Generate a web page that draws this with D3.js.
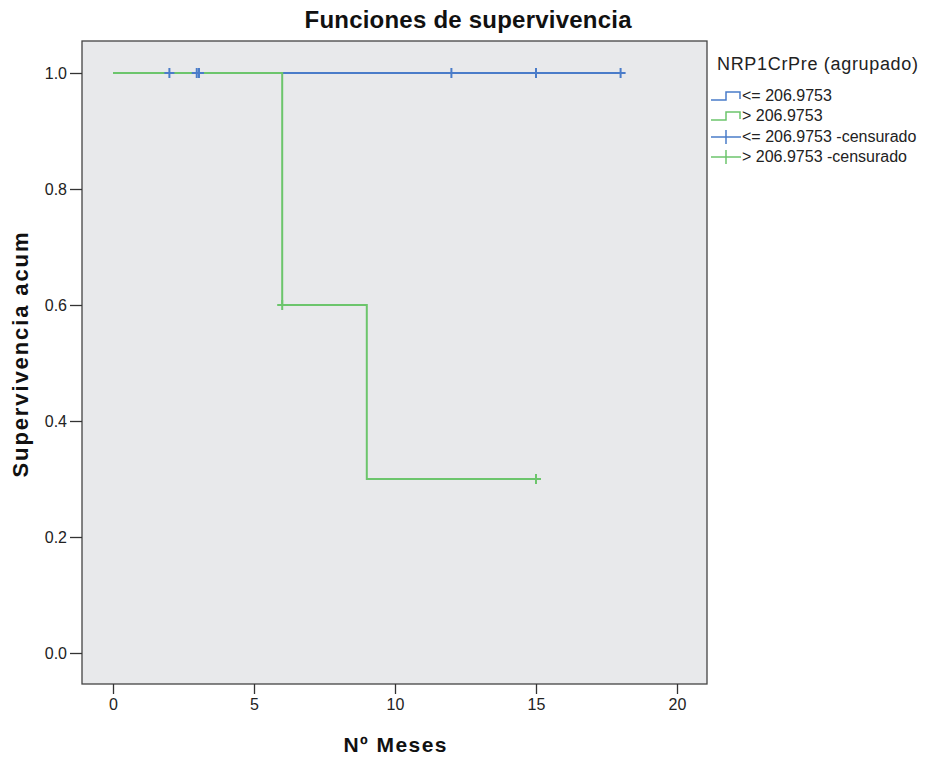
<!DOCTYPE html>
<html>
<head>
<meta charset="utf-8">
<script src="https://cdn.jsdelivr.net/npm/d3@7"></script>
<style>
  body { margin: 0; background: #fff; }
  text { font-family: Arial, "Liberation Sans", sans-serif; }
</style>
</head>
<body>
<script>
// survival steps: [month, cumulative survival]
var lowSteps = [[0, 1.0], [18, 1.0]];
var highSteps = [[0, 1.0], [6, 1.0], [6, 0.6], [9, 0.6], [9, 0.3], [15, 0.3]];
// censored observations
var lowCensored = [[2, 1.0], [2.97, 1.0], [3.05, 1.0], [12, 1.0], [15, 1.0], [18, 1.0]];
var highCensored = [[6, 0.6], [15, 0.3]];
var xTicks = [0, 5, 10, 15, 20];
var yTicks = [0.0, 0.2, 0.4, 0.6, 0.8, 1.0];
var legendLabels = ["<= 206.9753", "> 206.9753", "<= 206.9753 -censurado", "> 206.9753 -censurado"];

var blue = "#4a7cc9", green = "#6cc56c";

var svg = d3.select("body").append("svg")
  .attr("width", 930).attr("height", 758);

var frame = { left: 82, right: 707, top: 41, bottom: 684 };

var x = d3.scaleLinear().domain([0, 20]).range([113, 677]);
var y = d3.scaleLinear().domain([0, 1]).range([653, 73]);

svg.append("rect")
  .attr("x", frame.left).attr("y", frame.top)
  .attr("width", frame.right - frame.left).attr("height", frame.bottom - frame.top)
  .attr("fill", "#e8e9eb").attr("stroke", "#444").attr("stroke-width", 1.3);

// axes
var xAxis = svg.append("g")
  .attr("transform", "translate(0," + frame.bottom + ")")
  .call(d3.axisBottom(x).tickValues(xTicks).tickSize(10).tickSizeOuter(0).tickPadding(5));
var yAxis = svg.append("g")
  .attr("transform", "translate(" + frame.left + ",0)")
  .call(d3.axisLeft(y).tickValues(yTicks).tickFormat(d3.format(".1f")).tickSize(12).tickSizeOuter(0).tickPadding(3));
[xAxis, yAxis].forEach(function (g) {
  g.select(".domain").remove();
  g.selectAll("line").attr("stroke", "#333").attr("stroke-width", 1.3);
  g.selectAll("text").attr("fill", "#222").style("font-size", "16px");
});

var line = d3.line()
  .x(function (d) { return x(d[0]); })
  .y(function (d) { return y(d[1]); });

svg.append("path").datum(lowSteps)
  .attr("d", line).attr("fill", "none").attr("stroke", blue).attr("stroke-width", 2);
svg.append("path").datum(highSteps)
  .attr("d", line).attr("fill", "none").attr("stroke", green).attr("stroke-width", 2);

function censorMarks(data, color) {
  var g = svg.append("g");
  data.forEach(function (d) {
    var cx = x(d[0]), cy = y(d[1]);
    g.append("line").attr("x1", cx).attr("x2", cx).attr("y1", cy - 5).attr("y2", cy + 5)
      .attr("stroke", color).attr("stroke-width", 2);
    g.append("line").attr("x1", cx - 5).attr("x2", cx + 5).attr("y1", cy).attr("y2", cy)
      .attr("stroke", color).attr("stroke-width", 2);
  });
}
censorMarks(lowCensored, blue);
censorMarks(highCensored, green);

// titles
svg.append("text").attr("x", 468).attr("y", 28).attr("text-anchor", "middle")
  .style("font-size", "24px").style("font-weight", "bold").attr("fill", "#111")
  .attr("textLength", 327).attr("lengthAdjust", "spacing")
  .text("Funciones de supervivencia");
svg.append("text").attr("x", 395).attr("y", 752).attr("text-anchor", "middle")
  .style("font-size", "21px").style("font-weight", "bold").attr("fill", "#111")
  .attr("textLength", 103).attr("lengthAdjust", "spacing")
  .text("Nº Meses");
svg.append("text").attr("transform", "translate(28,355) rotate(-90)").attr("text-anchor", "middle")
  .style("font-size", "22px").style("font-weight", "bold").attr("fill", "#111")
  .attr("textLength", 245).attr("lengthAdjust", "spacing")
  .text("Supervivencia acum");

// legend
var legend = svg.append("g");
legend.append("text").attr("x", 717).attr("y", 70)
  .style("font-size", "18px").attr("fill", "#222")
  .attr("textLength", 201).attr("lengthAdjust", "spacing")
  .text("NRP1CrPre (agrupado)");
var colors = [blue, green, blue, green];
var rowY = [96, 116, 137, 157];
legendLabels.forEach(function (lab, i) {
  var cy = rowY[i];
  if (i < 2) {
    legend.append("path")
      .attr("d", "M711," + (cy + 4) + "H726V" + (cy - 4) + "H740V" + (cy + 3))
      .attr("fill", "none").attr("stroke", colors[i]).attr("stroke-width", 1.5);
  } else {
    legend.append("line").attr("x1", 711).attr("x2", 741).attr("y1", cy).attr("y2", cy)
      .attr("stroke", colors[i]).attr("stroke-width", 1.5);
    legend.append("line").attr("x1", 726).attr("x2", 726).attr("y1", cy - 7).attr("y2", cy + 7)
      .attr("stroke", colors[i]).attr("stroke-width", 1.5);
  }
  legend.append("text").attr("x", 742).attr("y", cy + 5)
    .style("font-size", "16px").attr("fill", "#222").text(lab);
});
</script>
</body>
</html>
